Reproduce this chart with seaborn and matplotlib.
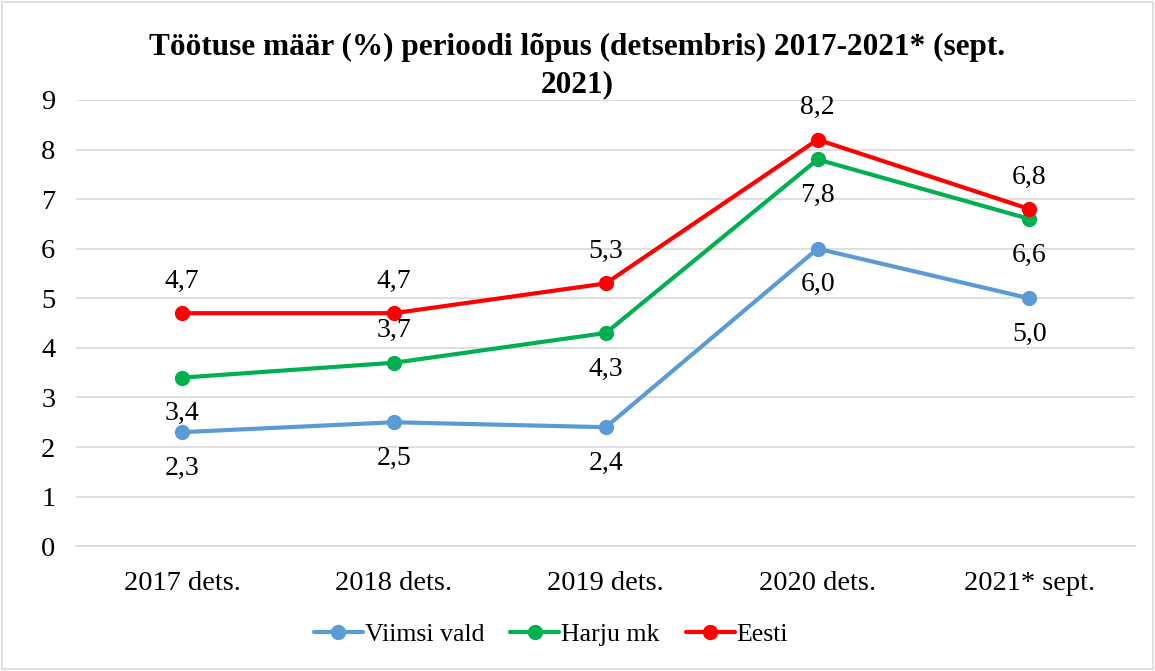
import matplotlib
matplotlib.use("Agg")
import matplotlib.pyplot as plt
import seaborn as sns
import pandas as pd
from matplotlib.patches import Rectangle
from matplotlib.lines import Line2D

categories = ["2017 dets.", "2018 dets.", "2019 dets.", "2020 dets.", "2021* sept."]
viimsi = [2.3, 2.5, 2.4, 6.0, 5.0]
harju = [3.4, 3.7, 4.3, 7.8, 6.6]
eesti = [4.7, 4.7, 5.3, 8.2, 6.8]
series_names = ["Viimsi vald", "Harju mk", "Eesti"]
colors = ["#5B9BD5", "#00B050", "#FF0000"]
title_lines = ["Töötuse määr (%) perioodi lõpus (detsembris) 2017-2021* (sept.", "2021)"]

sns.set_theme(style="white")
plt.rcParams['font.family'] = ['Liberation Serif', 'DejaVu Serif']
plt.rcParams['text.color'] = '#000000'

rows = []
for name, vals in zip(series_names, [viimsi, harju, eesti]):
    for i, (c, v) in enumerate(zip(categories, vals)):
        rows.append({"cat": c, "x": i, "value": v, "series": name})
df = pd.DataFrame(rows)

fig = plt.figure(figsize=(11.55, 6.71), dpi=100)
ax = fig.add_axes([0.066, 0.186, 0.917, 0.665])

sns.lineplot(data=df, x="x", y="value", hue="series", palette=colors,
             hue_order=series_names, marker="o", markersize=11, linewidth=3,
             markeredgewidth=0, ax=ax, legend=False)

ax.set_xlim(-0.5, 4.5)
ax.set_ylim(0, 9)
ax.set_yticks(range(0, 10))
ax.set_xticks(range(5))
ax.set_xticklabels(categories)
ax.tick_params(axis='both', labelsize=20.5, length=0, colors="#000000")
ax.tick_params(axis='x', pad=18)
ax.tick_params(axis='y', pad=15)
ax.yaxis.grid(True, color="#D9D9D9", linewidth=1.2)
ax.xaxis.grid(False)
for s in ["top", "right", "left"]:
    ax.spines[s].set_visible(False)
ax.spines["bottom"].set_color("#D9D9D9")
ax.spines["bottom"].set_linewidth(1.2)
ax.set_xlabel("")
ax.set_ylabel("")

def fmt(v):
    return f"{v:.1f}".replace(".", ",")

pos = {
    "Viimsi vald": [-1, -1, -1, -1, -1],
    "Harju mk": [-1, 1, -1, -1, -1],
    "Eesti": [1, 1, 1, 1, 1],
}
for name, vals in zip(series_names, [viimsi, harju, eesti]):
    for i, v in enumerate(vals):
        d = pos[name][i]
        off = 23 if d > 0 else -26
        ax.annotate(fmt(v), (i, v), xytext=(0, off), textcoords="offset points",
                    ha="center", va="center", fontsize=20, color="#000000")

fig.text(0.5, 0.930, title_lines[0], ha="center", va="center",
         fontsize=22.5, fontweight="bold", color="#000000")
fig.text(0.5, 0.873, title_lines[1], ha="center", va="center",
         fontsize=22.5, fontweight="bold", color="#000000")

handles = [Line2D([0], [0], color=c, lw=3, marker="o", markersize=11, markeredgewidth=0)
           for c in colors]
leg = fig.legend(handles, series_names, loc="center", bbox_to_anchor=(0.477, 0.054),
                 ncol=3, frameon=False, prop={"family": "Liberation Serif", "size": 18.6},
                 handlelength=1.9, columnspacing=1.0, handletextpad=0.08)
for t in leg.get_texts():
    t.set_color("#000000")

fig.patches.append(Rectangle((0.002, 0.003), 0.996, 0.994, transform=fig.transFigure,
                             fill=False, edgecolor="#D9D9D9", linewidth=1.2))

fig.savefig("out.png", dpi=100, facecolor="white")
